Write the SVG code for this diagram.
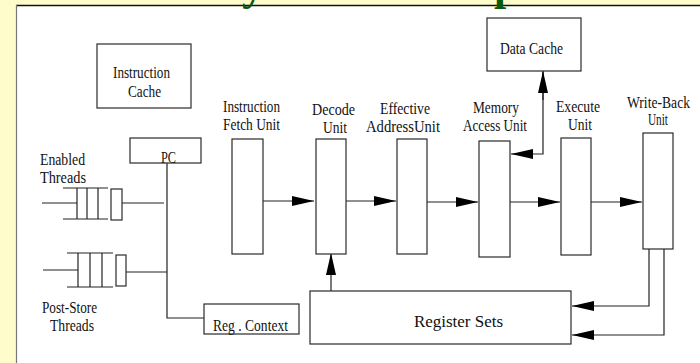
<svg xmlns="http://www.w3.org/2000/svg" width="700" height="363" viewBox="0 0 700 363">
  <defs>
    <style>
      .box { fill: #ffffff; stroke: #2a2a2a; stroke-width: 1.2; }
      .wire { fill: none; stroke: #222; stroke-width: 1.2; }
      .lbl { font-family: "Liberation Serif", "Times New Roman", serif; font-size: 16px; fill: #111; }
      .title { font-family: "Liberation Serif", "Times New Roman", serif; font-size: 44px; font-weight: bold; fill: #0b5a0b; }
    </style>
    <marker id="arrow" viewBox="0 0 22 10" refX="22" refY="5" markerWidth="22" markerHeight="10" markerUnits="userSpaceOnUse" orient="auto">
      <path d="M0,0 L22,5 L0,10 Z" fill="#000"/>
    </marker>
  </defs>

  <!-- slide background and white panel -->
  <rect x="0" y="0" width="700" height="363" fill="#fffccc"/>
  <rect x="16" y="5" width="684" height="358" fill="#ffffff"/>
  <line x1="16" y1="5.5" x2="700" y2="5.5" stroke="#111" stroke-width="1.5"/>
  <line x1="16.5" y1="5" x2="16.5" y2="363" stroke="#777" stroke-width="1.2"/>

  <!-- title (clipped at top edge) -->
  <text class="title" x="242" y="0">y</text>
  <text class="title" x="494" y="0">p</text>

  <!-- connectors -->
  <g id="connectors">
    <!-- enabled threads queue -->
    <line class="wire" x1="42" y1="203" x2="77" y2="203"/>
    <line class="wire" x1="63" y1="188" x2="108" y2="188"/>
    <line class="wire" x1="63" y1="219" x2="108" y2="219"/>
    <line class="wire" x1="77" y1="188" x2="77" y2="219"/>
    <line class="wire" x1="87" y1="188" x2="87" y2="219"/>
    <line class="wire" x1="98" y1="188" x2="98" y2="219"/>
    <rect class="box" x="111" y="189" width="11" height="31"/>
    <line class="wire" x1="122" y1="203" x2="164" y2="203"/>

    <!-- post-store threads queue -->
    <line class="wire" x1="43" y1="270" x2="78" y2="270"/>
    <line class="wire" x1="67" y1="253" x2="113" y2="253"/>
    <line class="wire" x1="67" y1="287" x2="113" y2="287"/>
    <line class="wire" x1="78" y1="253" x2="78" y2="287"/>
    <line class="wire" x1="90" y1="253" x2="90" y2="287"/>
    <line class="wire" x1="102" y1="253" x2="102" y2="287"/>
    <rect class="box" x="116" y="255" width="10" height="31"/>
    <line class="wire" x1="126" y1="272" x2="167" y2="272"/>

    <!-- PC bus down to register context -->
    <polyline class="wire" points="167,163 167,318 204,318"/>

    <!-- pipeline flow -->
    <line class="wire" x1="263" y1="201" x2="314" y2="201" marker-end="url(#arrow)"/>
    <line class="wire" x1="343" y1="201" x2="396" y2="201" marker-end="url(#arrow)"/>
    <line class="wire" x1="427" y1="202" x2="478" y2="202" marker-end="url(#arrow)"/>
    <line class="wire" x1="510" y1="202" x2="560" y2="202" marker-end="url(#arrow)"/>
    <line class="wire" x1="591" y1="202" x2="642" y2="202" marker-end="url(#arrow)"/>

    <!-- register sets to decode -->
    <line class="wire" x1="331" y1="291" x2="331" y2="253" marker-end="url(#arrow)"/>

    <!-- memory access to/from data cache -->
    <polyline class="wire" points="543,72 543,154 511,154" marker-end="url(#arrow)"/>
    <line class="wire" x1="543" y1="100" x2="543" y2="71" marker-end="url(#arrow)"/>

    <!-- write-back to register sets -->
    <polyline class="wire" points="649,249 649,306 572,306" marker-end="url(#arrow)" stroke="#555"/>
    <polyline class="wire" points="664,249 664,335 572,335" marker-end="url(#arrow)" stroke="#555"/>
  </g>

  <!-- nodes -->
  <g id="instruction-cache">
    <rect class="box" x="97" y="44" width="94" height="64"/>
    <text class="lbl" x="113" y="78" textLength="57" lengthAdjust="spacingAndGlyphs">Instruction</text>
    <text class="lbl" x="128" y="97" textLength="33" lengthAdjust="spacingAndGlyphs">Cache</text>
  </g>

  <g id="pc">
    <rect class="box" x="130" y="138" width="71" height="25"/>
    <text class="lbl" x="161" y="163" textLength="15" lengthAdjust="spacingAndGlyphs">PC</text>
  </g>

  <g id="enabled-threads">
    <text class="lbl" x="40" y="165" textLength="45" lengthAdjust="spacingAndGlyphs">Enabled</text>
    <text class="lbl" x="40" y="183" textLength="46" lengthAdjust="spacingAndGlyphs">Threads</text>
  </g>

  <g id="post-store-threads">
    <text class="lbl" x="42" y="313" textLength="55" lengthAdjust="spacingAndGlyphs">Post-Store</text>
    <text class="lbl" x="50" y="331" textLength="44" lengthAdjust="spacingAndGlyphs">Threads</text>
  </g>

  <g id="reg-context">
    <rect class="box" x="204" y="304" width="95" height="30"/>
    <text class="lbl" x="213" y="331" textLength="75" lengthAdjust="spacingAndGlyphs">Reg . Context</text>
  </g>

  <g id="fetch-unit">
    <rect class="box" x="232" y="139" width="31" height="115"/>
    <text class="lbl" x="223" y="112" textLength="57" lengthAdjust="spacingAndGlyphs">Instruction</text>
    <text class="lbl" x="223" y="130" textLength="57" lengthAdjust="spacingAndGlyphs">Fetch Unit</text>
  </g>

  <g id="decode-unit">
    <rect class="box" x="316" y="139" width="30" height="115"/>
    <text class="lbl" x="312" y="115" textLength="43" lengthAdjust="spacingAndGlyphs">Decode</text>
    <text class="lbl" x="323" y="133" textLength="24" lengthAdjust="spacingAndGlyphs">Unit</text>
  </g>

  <g id="effective-address-unit">
    <rect class="box" x="397" y="139" width="30" height="115"/>
    <text class="lbl" x="380" y="114" textLength="50" lengthAdjust="spacingAndGlyphs">Effective</text>
    <text class="lbl" x="366" y="132" textLength="74" lengthAdjust="spacingAndGlyphs">AddressUnit</text>
  </g>

  <g id="memory-access-unit">
    <rect class="box" x="479" y="141" width="31" height="116"/>
    <text class="lbl" x="473" y="113" textLength="46" lengthAdjust="spacingAndGlyphs">Memory</text>
    <text class="lbl" x="463" y="131" textLength="64" lengthAdjust="spacingAndGlyphs">Access Unit</text>
  </g>

  <g id="execute-unit">
    <rect class="box" x="561" y="138" width="30" height="117"/>
    <text class="lbl" x="556" y="112" textLength="44" lengthAdjust="spacingAndGlyphs">Execute</text>
    <text class="lbl" x="568" y="130" textLength="24" lengthAdjust="spacingAndGlyphs">Unit</text>
  </g>

  <g id="write-back-unit">
    <rect class="box" x="643" y="133" width="30" height="116"/>
    <text class="lbl" x="627" y="108" textLength="63" lengthAdjust="spacingAndGlyphs">Write-Back</text>
    <text class="lbl" x="648" y="125" textLength="20" lengthAdjust="spacingAndGlyphs">Unit</text>
  </g>

  <g id="data-cache">
    <rect class="box" x="487" y="18" width="94" height="53"/>
    <text class="lbl" x="500" y="54" textLength="63" lengthAdjust="spacingAndGlyphs">Data Cache</text>
  </g>

  <g id="register-sets">
    <rect class="box" x="310" y="291" width="261" height="53"/>
    <text class="lbl" x="414" y="327" textLength="89" lengthAdjust="spacingAndGlyphs">Register Sets</text>
  </g>
</svg>
